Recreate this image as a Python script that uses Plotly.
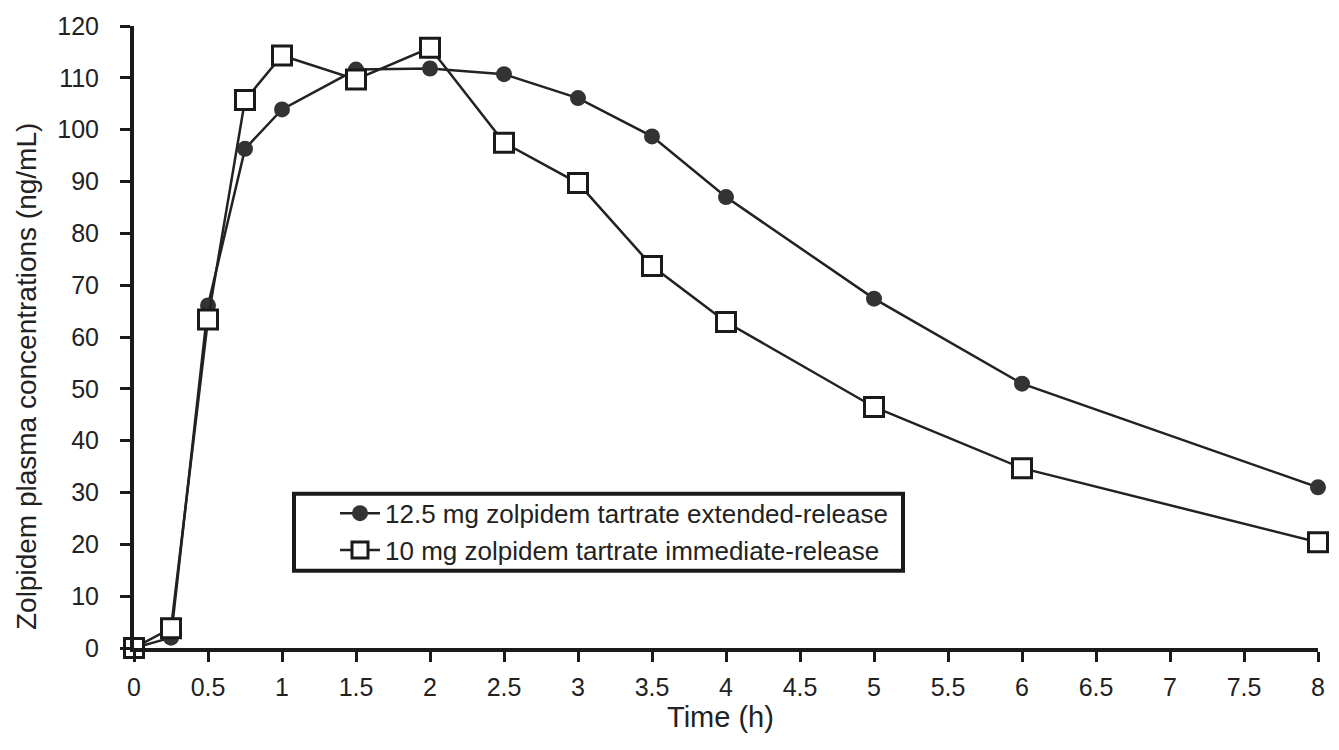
import plotly.graph_objects as go

time_h = [0, 0.25, 0.5, 0.75, 1, 1.5, 2, 2.5, 3, 3.5, 4, 5, 6, 8]
er_12_5 = [0, 2, 66.1, 96.3, 103.9, 111.6, 111.8, 110.7, 106.1, 98.7, 87.0, 67.4, 51.0, 31.0]
ir_10 = [0, 3.8, 63.4, 105.7, 114.3, 109.7, 115.8, 97.5, 89.7, 73.7, 62.9, 46.5, 34.7, 20.4]
x_ticks = [0, 0.5, 1, 1.5, 2, 2.5, 3, 3.5, 4, 4.5, 5, 5.5, 6, 6.5, 7, 7.5, 8]
x_tick_labels = ["0", "0.5", "1", "1.5", "2", "2.5", "3", "3.5", "4", "4.5", "5", "5.5", "6", "6.5", "7", "7.5", "8"]
y_ticks = list(range(0, 121, 10))

font = "Liberation Sans, Arial, sans-serif"
fig = go.Figure()
fig.add_trace(go.Scatter(
    x=time_h, y=er_12_5, mode="lines+markers",
    name="12.5 mg zolpidem tartrate extended-release",
    line=dict(color="#222222", width=2.5),
    marker=dict(symbol="circle", size=16, color="#333333", line=dict(width=0)),
    cliponaxis=False,
))
fig.add_trace(go.Scatter(
    x=time_h, y=ir_10, mode="lines+markers",
    name="10 mg zolpidem tartrate immediate-release",
    line=dict(color="#222222", width=2.5),
    marker=dict(symbol="square", size=19, color="white", line=dict(width=3, color="#1a1a1a")),
    cliponaxis=False,
))
fig.update_layout(
    width=1339, height=750,
    margin=dict(l=134, r=21, t=19, b=102),
    paper_bgcolor="white", plot_bgcolor="white",
    font=dict(family=font, size=25, color="#222222"),
    showlegend=True,
    legend=dict(
        x=(335 - 134) / 1184, y=(648 - 488) / 629, xanchor="left", yanchor="top",
        borderwidth=0, bgcolor="rgba(0,0,0,0)",
        font=dict(size=26), tracegroupgap=0, itemwidth=40,
    ),
    shapes=[dict(
        type="rect", xref="paper", yref="paper",
        x0=(294 - 134) / 1184, x1=(903 - 134) / 1184,
        y0=(648 - 570) / 629, y1=(648 - 492) / 629,
        line=dict(color="#1a1a1a", width=4), fillcolor="white", layer="below",
    )],
    annotations=[
        dict(text="Zolpidem plasma concentrations (ng/mL)", textangle=-90,
             xref="paper", yref="paper", x=(26 - 134) / 1184, y=(648 - 374) / 629,
             xanchor="center", yanchor="middle", showarrow=False, font=dict(size=28)),
        dict(text="Time (h)", xref="paper", yref="paper",
             x=(720 - 134) / 1184, y=(648 - 718) / 629,
             xanchor="center", yanchor="middle", showarrow=False, font=dict(size=29)),
    ],
)
fig.update_xaxes(
    range=[0, 8], tickvals=x_ticks, ticktext=x_tick_labels,
    showline=True, linecolor="#1a1a1a", linewidth=4,
    ticks="outside", ticklen=10, tickwidth=3, tickcolor="#1a1a1a",
    showgrid=False, zeroline=False, ticklabelstandoff=4,
)
fig.update_yaxes(
    range=[0, 120], tickvals=y_ticks,
    showline=True, linecolor="#1a1a1a", linewidth=4,
    ticks="outside", ticklen=10, tickwidth=3, tickcolor="#1a1a1a",
    showgrid=False, zeroline=False, ticklabelstandoff=16,
)
fig.write_html("out.html", config={"displayModeBar": False},
               post_script="document.body.style.margin='0';")
